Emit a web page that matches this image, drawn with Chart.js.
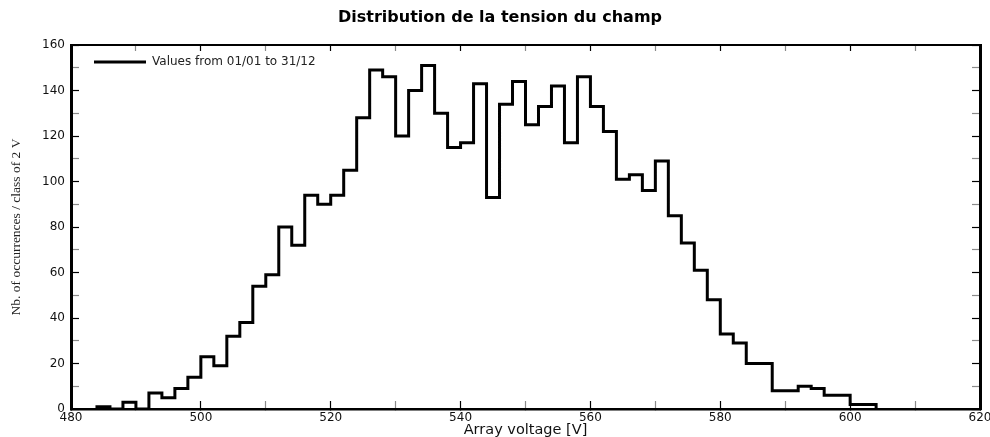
<!DOCTYPE html>
<html>
<head>
<meta charset="utf-8">
<script src="https://cdn.jsdelivr.net/npm/chart.js@4.4.1/dist/chart.umd.min.js"></script>
<style>
  html, body { margin: 0; padding: 0; background: #ffffff; }
  #wrap { width: 990px; height: 437px; }
</style>
</head>
<body>
<div id="wrap"><canvas id="c" width="990" height="437"></canvas></div>
<script>
// Histogram classes of 2 V: left edge of each class
const binStarts = [484, 486, 488, 490, 492, 494, 496, 498, 500, 502,
                   504, 506, 508, 510, 512, 514, 516, 518, 520, 522,
                   524, 526, 528, 530, 532, 534, 536, 538, 540, 542,
                   544, 546, 548, 550, 552, 554, 556, 558, 560, 562,
                   564, 566, 568, 570, 572, 574, 576, 578, 580, 582,
                   584, 586, 588, 590, 592, 594, 596, 598, 600, 602];
const lastBinEnd = 604;
// Number of occurrences per class
const counts = [1, 0, 3, 0, 7, 5, 9, 14, 23, 19,
                32, 38, 54, 59, 80, 72, 94, 90, 94, 105,
                128, 149, 146, 120, 140, 151, 130, 115, 117, 143,
                93, 134, 144, 125, 133, 142, 117, 146, 133, 122,
                101, 103, 96, 109, 85, 73, 61, 48, 33, 29,
                20, 20, 8, 8, 10, 9, 6, 6, 2, 2];

const chartTitle = 'Distribution de la tension du champ';
const seriesLabel = 'Values from 01/01 to 31/12';
const xTitle = 'Array voltage [V]';
const yTitle = 'Nb. of occurrences / class of 2 V';
const xMin = 480, xMax = 620, yMin = 0, yMax = 160;

// step outline points
const points = [{ x: binStarts[0], y: 0 }];
binStarts.forEach((b, i) => points.push({ x: b, y: counts[i] }));
points.push({ x: lastBinEnd, y: 0 });

const sans = "'DejaVu Sans', 'Liberation Sans', Arial, sans-serif";
const tickCol = (ctx) => (ctx.tick && ctx.tick.value % 20 === 0) ? '#000000' : '#8a8a8a';
const majorOnly = (v) => (v % 20 === 0 ? v : '');

const legendMover = {
  id: 'legendMover',
  afterLayout(chart) {
    const lg = chart.legend;
    if (!lg) return;
    const ca = chart.chartArea;
    const w = lg.width, h = lg.height;
    lg.left = ca.left + 13;
    lg.top = ca.top + 1;
    lg.right = lg.left + w;
    lg.bottom = lg.top + h;
  }
};

new Chart(document.getElementById('c'), {
  type: 'line',
  data: {
    datasets: [{
      label: seriesLabel,
      data: points,
      stepped: true,
      borderColor: '#000000',
      backgroundColor: '#000000',
      borderWidth: 3,
      pointRadius: 0,
      pointHoverRadius: 0,
      fill: false,
      tension: 0
    }]
  },
  options: {
    responsive: false,
    animation: false,
    events: [],
    layout: { padding: { left: 10, right: 0, top: 0, bottom: 0 } },
    plugins: {
      title: {
        display: true,
        text: chartTitle,
        color: '#000000',
        font: { family: sans, size: 16, weight: 'bold', lineHeight: 1.2 },
        padding: { top: 8.1, bottom: 17.7 }
      },
      legend: {
        display: true,
        position: 'chartArea',
        align: 'start',
        labels: {
          usePointStyle: true,
          pointStyle: 'line',
          pointStyleWidth: 52,
          padding: 10,
          color: '#222222',
          font: { family: sans, size: 12 }
        }
      },
      tooltip: { enabled: false }
    },
    scales: {
      x: {
        type: 'linear',
        position: 'bottom',
        min: xMin, max: xMax,
        ticks: {
          stepSize: 10, autoSkip: false, maxRotation: 0,
          callback: majorOnly,
          color: '#111111', padding: 10,
          font: { family: sans, size: 12 }
        },
        grid: { drawOnChartArea: false, drawTicks: true, tickLength: -8, tickColor: tickCol, tickWidth: 1.2 },
        border: { display: true, color: '#000000', width: 2.5 },
        title: {
          display: true, text: xTitle, color: '#111111', padding: 0,
          font: { family: sans, size: 14.5, lineHeight: 1 }
        },
        afterFit: (s) => { s.height = 28; s.paddingLeft = 0; s.paddingRight = 0; }
      },
      x2: {
        type: 'linear',
        position: 'top',
        min: xMin, max: xMax,
        ticks: { display: false, stepSize: 10, autoSkip: false },
        grid: { drawOnChartArea: false, drawTicks: true, tickLength: -6, tickColor: tickCol, tickWidth: 1.2 },
        border: { display: true, color: '#000000', width: 2 },
        afterFit: (s) => { s.height = 0; s.paddingLeft = 0; s.paddingRight = 0; }
      },
      y: {
        type: 'linear',
        position: 'left',
        min: yMin, max: yMax,
        ticks: {
          stepSize: 10, autoSkip: false,
          callback: majorOnly,
          color: '#111111', padding: 14,
          font: { family: sans, size: 12 }
        },
        grid: { drawOnChartArea: false, drawTicks: true, tickLength: -8, tickColor: tickCol, tickWidth: 1.2 },
        border: { display: true, color: '#000000', width: 3 },
        title: {
          display: true, text: yTitle, color: '#222222', padding: 0,
          font: { family: "'Liberation Serif', 'Times New Roman', serif", size: 13.5, lineHeight: 1 }
        },
        afterFit: (s) => { s.width = 61; s.paddingTop = 0; s.paddingBottom = 0; }
      },
      y2: {
        type: 'linear',
        position: 'right',
        min: yMin, max: yMax,
        ticks: { display: false, stepSize: 10, autoSkip: false },
        grid: { drawOnChartArea: false, drawTicks: true, tickLength: -8, tickColor: tickCol, tickWidth: 1.2 },
        border: { display: true, color: '#000000', width: 3 },
        afterFit: (s) => { s.width = 10; s.paddingTop = 0; s.paddingBottom = 0; }
      }
    }
  },
  plugins: [legendMover]
});
</script>
</body>
</html>
